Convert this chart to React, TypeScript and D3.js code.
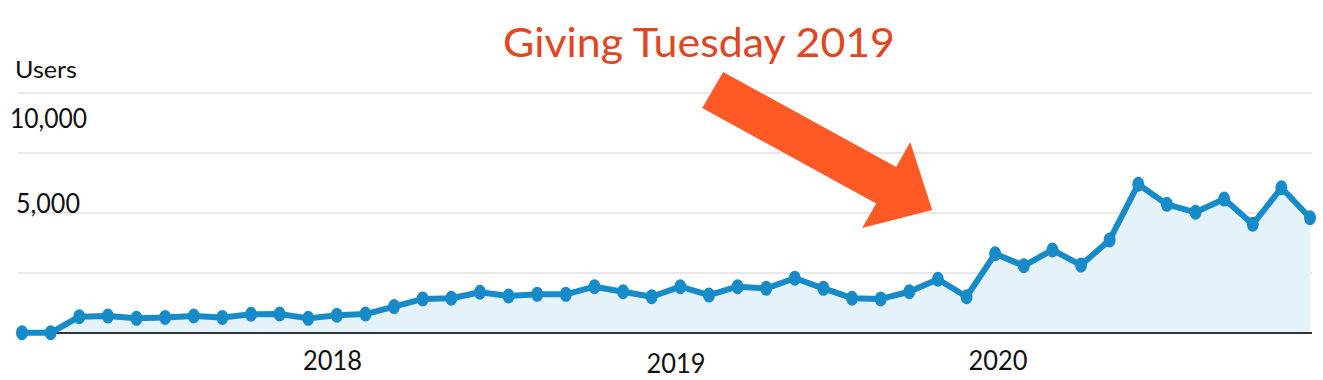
import React from "react";
import * as d3 from "d3";

// Monthly users, Feb 2017 – Nov 2020
const months: string[] = [
  "2017-02","2017-03","2017-04","2017-05","2017-06","2017-07","2017-08","2017-09","2017-10","2017-11","2017-12",
  "2018-01","2018-02","2018-03","2018-04","2018-05","2018-06","2018-07","2018-08","2018-09","2018-10","2018-11","2018-12",
  "2019-01","2019-02","2019-03","2019-04","2019-05","2019-06","2019-07","2019-08","2019-09","2019-10","2019-11","2019-12",
  "2020-01","2020-02","2020-03","2020-04","2020-05","2020-06","2020-07","2020-08","2020-09","2020-10","2020-11",
];
const users: number[] = [
  10, 10, 680, 710, 610, 650, 710, 650, 780, 790, 610,
  740, 790, 1100, 1420, 1450, 1700, 1540, 1610, 1610, 1930, 1720, 1510,
  1930, 1580, 1930, 1860, 2280, 1860, 1450, 1420, 1720, 2240, 1510, 3300,
  2800, 3460, 2830, 3880, 6200, 5360, 5030, 5580, 4530, 6050, 4800,
];
const gridValues: number[] = [0, 2500, 5000, 7500, 10000];
const yTickLabels: string[] = ["10,000", "5,000"];
const yTickValues: number[] = [10000, 5000];
const yearLabels: string[] = ["2018", "2019", "2020"];
const yearPositions: number[] = [10.85, 22.85, 34.1];
const annotationText = "Giving Tuesday 2019";
const axisTitle = "Users";

const W = 1323;
const H = 380;

export default function App() {
  const x = d3.scaleLinear().domain([0, months.length - 1]).range([22, 1310]);
  const y = d3.scaleLinear().domain([0, 10000]).range([333, 93]);

  const line = d3
    .line<number>()
    .x((_, i) => x(i))
    .y((d) => y(d));
  const area = d3
    .area<number>()
    .x((_, i) => x(i))
    .y0(y(0))
    .y1((d) => y(d));

  // arrow anchored at a data location (tip)
  const tipX = x(31.8);
  const tipY = y(5125);
  const arrowOffsets: [number, number][] = [
    [-209, -138], [-36, -43], [-22, -68], [0, 0], [-70, 18], [-56, -6.5], [-230, -102],
  ];
  const arrowPts = arrowOffsets.map(([dx, dy]) => `${tipX + dx},${tipY + dy}`).join(" ");

  const labelDy: Record<string, number> = { "10,000": 35, "5,000": 0 };
  const font = "Lato, 'Open Sans', sans-serif";

  return (
    <svg
      width={W}
      height={H}
      style={{ position: "absolute", left: 0, top: 0, background: "#fff" }}
    >
      {gridValues.slice(1).map((v) => (
        <line key={v} x1={18} x2={1312} y1={y(v)} y2={y(v)} stroke="#e8e8e8" strokeWidth={2} />
      ))}
      <path d={area(users) || ""} fill="#e6f2f9" />
      <line x1={20} x2={1312} y1={y(0)} y2={y(0)} stroke="#333" strokeWidth={2} />
      <path d={line(users) || ""} fill="none" stroke="#168bc7" strokeWidth={6} strokeLinejoin="round" />
      {users.map((d, i) => (
        <ellipse key={i} cx={x(i)} cy={y(d)} rx={6} ry={7.5} fill="#168bc7" />
      ))}

      <text x={15} y={78} fontFamily={font} fontSize={24} fill="#111" textLength={62} lengthAdjust="spacingAndGlyphs">
        {axisTitle}
      </text>
      {yTickLabels.map((t, i) => (
        <text
          key={t}
          x={t === "10,000" ? 10 : 16}
          y={y(yTickValues[i]) + labelDy[t]}
          fontFamily={font}
          fontSize={26}
          fill="#111"
          textLength={t === "10,000" ? 77 : 64}
          lengthAdjust="spacingAndGlyphs"
        >
          {t}
        </text>
      ))}
      {yearLabels.map((t, i) => (
        <text
          key={t}
          x={x(yearPositions[i])}
          y={370 + (t === "2019" ? 3 : 0)}
          textAnchor="middle"
          fontFamily={font}
          fontSize={26}
          fill="#111"
          textLength={59}
          lengthAdjust="spacingAndGlyphs"
        >
          {t}
        </text>
      ))}

      <text x={503} y={57} fontFamily={font} fontSize={40} fill="#e0461f" textLength={392} lengthAdjust="spacingAndGlyphs">
        {annotationText}
      </text>
      <polygon points={arrowPts} fill="#ff5a26" />
    </svg>
  );
}
